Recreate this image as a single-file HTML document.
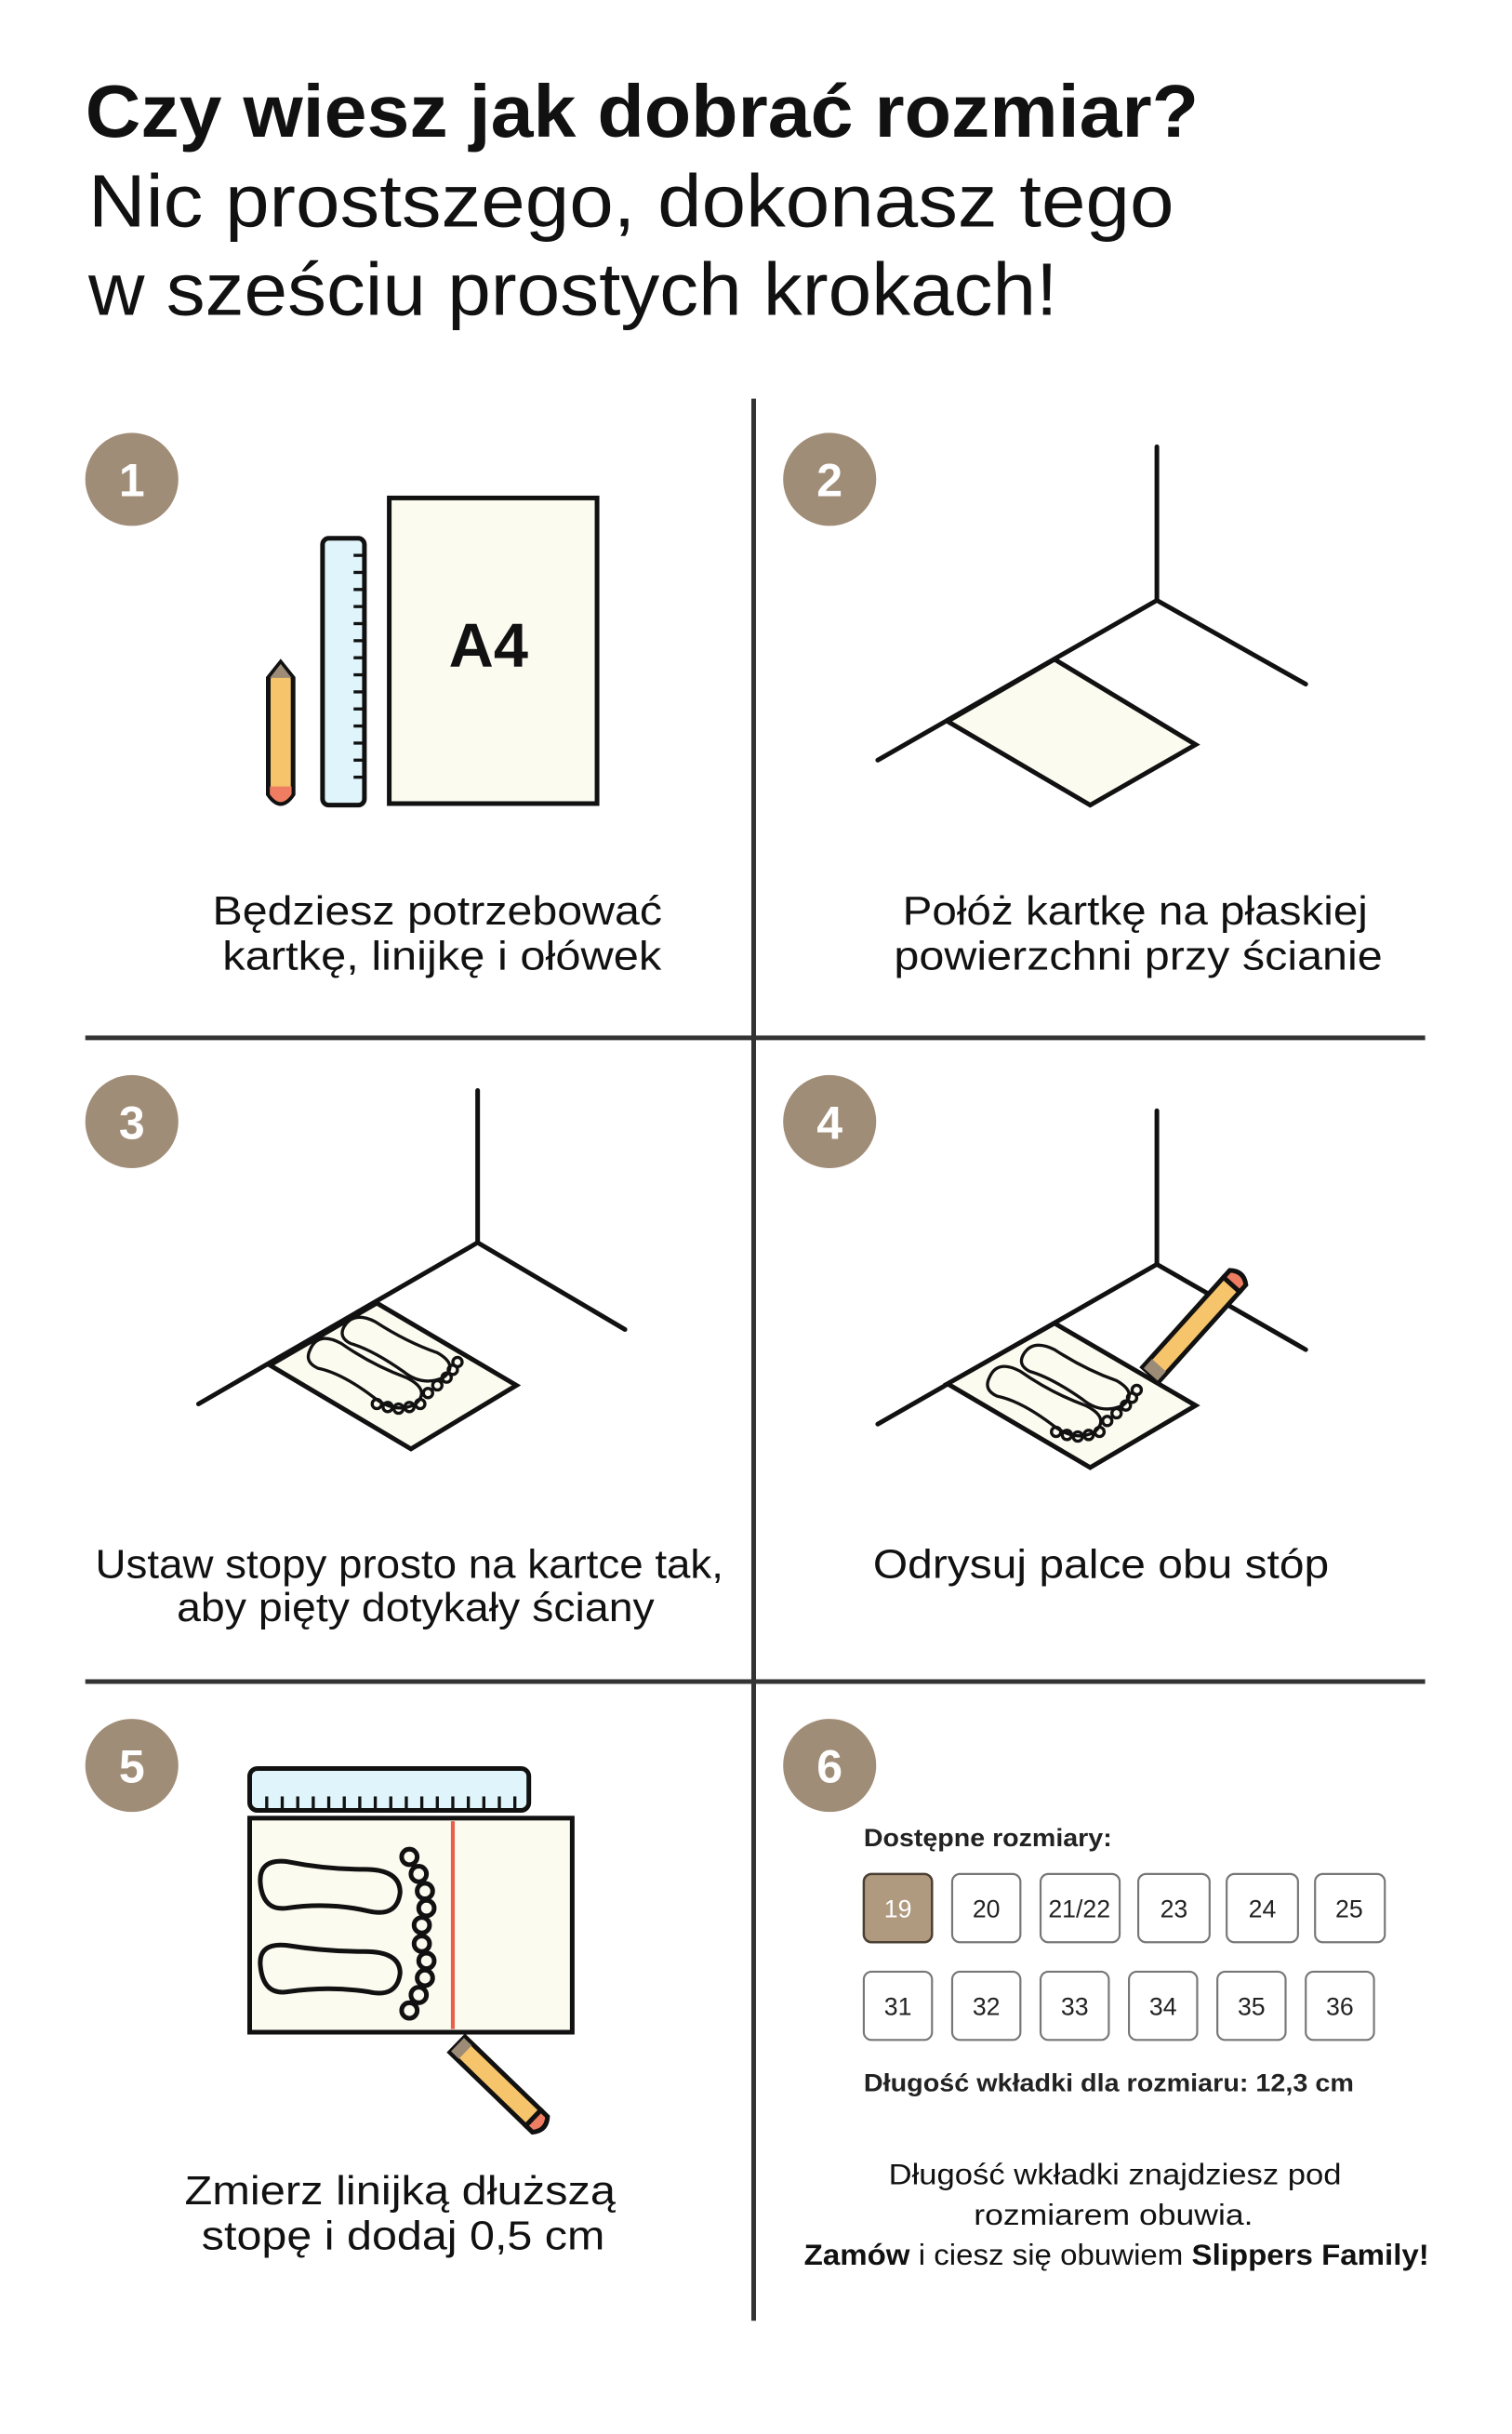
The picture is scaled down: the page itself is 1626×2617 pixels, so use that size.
<!DOCTYPE html>
<html><head><meta charset="utf-8"><style>
html,body{margin:0;padding:0;background:#fff;}
svg{display:block;}
text{font-family:"Liberation Sans",sans-serif;}
</style></head><body>
<svg width="1626" height="2617" viewBox="0 0 975 1569" preserveAspectRatio="none" xmlns="http://www.w3.org/2000/svg">
<rect width="975" height="1569" fill="#fff"/>
<!-- title -->
<text x="55" y="88" font-size="48" font-weight="bold" fill="#111" textLength="718" lengthAdjust="spacingAndGlyphs">Czy wiesz jak dobrać rozmiar?</text>
<text x="57" y="146" font-size="48" fill="#111" textLength="700" lengthAdjust="spacingAndGlyphs">Nic prostszego, dokonasz tego</text>
<text x="57" y="203" font-size="48" fill="#111" textLength="625" lengthAdjust="spacingAndGlyphs">w sześciu prostych krokach!</text>
<!-- grid -->
<line x1="486" y1="257" x2="486" y2="1496" stroke="#333" stroke-width="3"/>
<line x1="55" y1="669" x2="919" y2="669" stroke="#333" stroke-width="3"/>
<line x1="55" y1="1084" x2="919" y2="1084" stroke="#333" stroke-width="3"/>
<!-- number circles -->
<g fill="#a08d78">
<circle cx="85" cy="309" r="30"/><circle cx="535" cy="309" r="30"/>
<circle cx="85" cy="723" r="30"/><circle cx="535" cy="723" r="30"/>
<circle cx="85" cy="1138" r="30"/><circle cx="535" cy="1138" r="30"/>
</g>
<g fill="#fff" font-size="30" font-weight="bold" text-anchor="middle">
<text x="85" y="320">1</text><text x="535" y="320">2</text>
<text x="85" y="734">3</text><text x="535" y="734">4</text>
<text x="85" y="1149">5</text><text x="535" y="1149">6</text>
</g>
<!-- step1 -->
<rect x="251" y="321" width="134" height="197" fill="#fbfbf0" stroke="#111" stroke-width="3"/>
<text x="315" y="430" font-size="40" font-weight="bold" text-anchor="middle" fill="#111">A4</text>
<rect x="208" y="347" width="27" height="172" rx="4" fill="#dff4fb" stroke="#111" stroke-width="3"/>
<g stroke="#111" stroke-width="2">
<line x1="228" y1="358" x2="236" y2="358"/><line x1="228" y1="369" x2="236" y2="369"/><line x1="228" y1="380" x2="236" y2="380"/><line x1="228" y1="391" x2="236" y2="391"/><line x1="228" y1="402" x2="236" y2="402"/><line x1="228" y1="413" x2="236" y2="413"/><line x1="228" y1="424" x2="236" y2="424"/><line x1="228" y1="435" x2="236" y2="435"/><line x1="228" y1="446" x2="236" y2="446"/><line x1="228" y1="457" x2="236" y2="457"/><line x1="228" y1="468" x2="236" y2="468"/><line x1="228" y1="479" x2="236" y2="479"/><line x1="228" y1="490" x2="236" y2="490"/><line x1="228" y1="501" x2="236" y2="501"/>
</g>
<path d="M173,437 L181,427 L189,437 L189,512 Q181,524 173,512 Z" fill="#f6c46a" stroke="#111" stroke-width="3"/>
<path d="M174,437 L181,428 L188,437 Z" fill="#9c8b76"/>
<path d="M174,507 L188,507 L188,512 Q181,522 174,512 Z" fill="#ef7d62"/>
<text x="282" y="596" font-size="26" text-anchor="middle" fill="#111" textLength="290" lengthAdjust="spacingAndGlyphs">Będziesz potrzebować</text>
<text x="285" y="625" font-size="26" text-anchor="middle" fill="#111" textLength="283" lengthAdjust="spacingAndGlyphs">kartkę, linijkę i ołówek</text>
<!-- step2 -->
<g stroke="#111" stroke-width="3" fill="none" stroke-linecap="round">
<line x1="746" y1="288" x2="746" y2="387"/>
<polyline points="566,490 746,387 842,441"/>
</g>
<polygon points="611,465 680,425 771,480 703,519" fill="#fbfbf0" stroke="#111" stroke-width="3"/>
<text x="732" y="596" font-size="26" text-anchor="middle" fill="#111" textLength="300" lengthAdjust="spacingAndGlyphs">Połóż kartkę na płaskiej</text>
<text x="734" y="625" font-size="26" text-anchor="middle" fill="#111" textLength="315" lengthAdjust="spacingAndGlyphs">powierzchni przy ścianie</text>
<!-- step3 -->
<g stroke="#111" stroke-width="3" fill="none" stroke-linecap="round">
<line x1="308" y1="703" x2="308" y2="801"/>
<polyline points="128,905 308,801 403,857"/>
</g>
<polygon points="174,880 243,840 333,893 265,934" fill="#fbfbf0" stroke="#111" stroke-width="3"/>
<g stroke="#111" stroke-width="2" fill="none">
<path d="M200,870 Q205,858 220,866 Q240,880 262,888 Q278,896 268,905 Q255,912 240,900 Q220,885 205,882 Q196,878 200,870 Z"/>
<path d="M222,855 Q228,845 242,852 Q262,865 282,872 Q296,880 286,888 Q272,894 260,884 Q240,870 226,866 Q218,862 222,855 Z"/>
<circle cx="243" cy="905" r="3"/><circle cx="250" cy="907" r="3"/><circle cx="257" cy="908" r="3"/><circle cx="264" cy="907" r="3"/><circle cx="271" cy="905" r="3"/>
<circle cx="276" cy="898" r="3"/><circle cx="282" cy="893" r="3"/><circle cx="288" cy="888" r="3"/><circle cx="292" cy="883" r="3"/><circle cx="295" cy="878" r="3"/>
</g>
<text x="264" y="1017" font-size="26" text-anchor="middle" fill="#111" textLength="405" lengthAdjust="spacingAndGlyphs">Ustaw stopy prosto na kartce tak,</text>
<text x="268" y="1045" font-size="26" text-anchor="middle" fill="#111" textLength="308" lengthAdjust="spacingAndGlyphs">aby pięty dotykały ściany</text>
<!-- step4 -->
<g stroke="#111" stroke-width="3" fill="none" stroke-linecap="round">
<line x1="746" y1="716" x2="746" y2="815"/>
<polyline points="566,918 746,815 842,870"/>
</g>
<polygon points="611,892 680,853 771,906 703,946" fill="#fbfbf0" stroke="#111" stroke-width="3"/>
<g stroke="#111" stroke-width="2" fill="none">
<path d="M638,888 Q643,876 658,884 Q678,898 700,906 Q716,914 706,923 Q693,930 678,918 Q658,903 643,900 Q634,896 638,888 Z"/>
<path d="M660,873 Q666,863 680,870 Q700,883 720,890 Q734,898 724,906 Q710,912 698,902 Q678,888 664,884 Q656,880 660,873 Z"/>
<circle cx="681" cy="923" r="3"/><circle cx="688" cy="925" r="3"/><circle cx="695" cy="926" r="3"/><circle cx="702" cy="925" r="3"/><circle cx="709" cy="923" r="3"/>
<circle cx="714" cy="916" r="3"/><circle cx="720" cy="911" r="3"/><circle cx="726" cy="906" r="3"/><circle cx="730" cy="901" r="3"/><circle cx="733" cy="896" r="3"/>
</g>
<g transform="translate(742,886) rotate(-48)">
<rect x="0" y="-7" width="78" height="14" fill="#f6c46a" stroke="#111" stroke-width="3"/>
<rect x="0" y="-6" width="8" height="12" fill="#9c8b76"/>
<path d="M78,-7 L84,-7 Q90,0 84,7 L78,7 Z" fill="#ef7d62" stroke="#111" stroke-width="3"/>
</g>
<text x="710" y="1017" font-size="26" text-anchor="middle" fill="#111" textLength="294" lengthAdjust="spacingAndGlyphs">Odrysuj palce obu stóp</text>
<!-- step5 -->
<rect x="161" y="1140" width="180" height="27" rx="5" fill="#dff4fb" stroke="#111" stroke-width="3"/>
<g stroke="#111" stroke-width="2">
<line x1="172" y1="1158" x2="172" y2="1167"/><line x1="182" y1="1158" x2="182" y2="1167"/><line x1="192" y1="1158" x2="192" y2="1167"/><line x1="202" y1="1158" x2="202" y2="1167"/><line x1="212" y1="1158" x2="212" y2="1167"/><line x1="222" y1="1158" x2="222" y2="1167"/><line x1="232" y1="1158" x2="232" y2="1167"/><line x1="242" y1="1158" x2="242" y2="1167"/><line x1="252" y1="1158" x2="252" y2="1167"/><line x1="262" y1="1158" x2="262" y2="1167"/><line x1="272" y1="1158" x2="272" y2="1167"/><line x1="282" y1="1158" x2="282" y2="1167"/><line x1="292" y1="1158" x2="292" y2="1167"/><line x1="302" y1="1158" x2="302" y2="1167"/><line x1="312" y1="1158" x2="312" y2="1167"/><line x1="322" y1="1158" x2="322" y2="1167"/><line x1="332" y1="1158" x2="332" y2="1167"/>
</g>
<rect x="161" y="1172" width="208" height="138" fill="#fbfbf0" stroke="#111" stroke-width="3"/>
<line x1="292" y1="1174" x2="292" y2="1308" stroke="#e8604c" stroke-width="2.5"/>
<g stroke="#111" stroke-width="3" fill="none">
<path d="M168,1215 Q166,1198 185,1200 Q210,1205 235,1205 Q258,1205 258,1220 Q256,1236 238,1232 Q212,1226 185,1230 Q170,1232 168,1215 Z"/>
<path d="M168,1268 Q166,1252 185,1254 Q210,1258 235,1258 Q258,1258 258,1272 Q256,1288 238,1284 Q212,1280 185,1284 Q170,1286 168,1268 Z"/>
<circle cx="264" cy="1197" r="5"/><circle cx="270" cy="1208" r="5"/><circle cx="274" cy="1219" r="5"/><circle cx="275" cy="1230" r="5"/><circle cx="272" cy="1241" r="5"/>
<circle cx="272" cy="1253" r="5"/><circle cx="275" cy="1264" r="5"/><circle cx="274" cy="1275" r="5"/><circle cx="270" cy="1286" r="5"/><circle cx="264" cy="1296" r="5"/>
</g>
<g transform="translate(295,1318) rotate(44)">
<rect x="0" y="-7" width="68" height="14" fill="#f6c46a" stroke="#111" stroke-width="3"/>
<rect x="0" y="-6" width="7" height="12" fill="#9c8b76"/>
<path d="M68,-7 L74,-7 Q80,0 74,7 L68,7 Z" fill="#ef7d62" stroke="#111" stroke-width="3"/>
</g>
<text x="258" y="1421" font-size="26" text-anchor="middle" fill="#111" textLength="278" lengthAdjust="spacingAndGlyphs">Zmierz linijką dłuższą</text>
<text x="260" y="1450" font-size="26" text-anchor="middle" fill="#111" textLength="260" lengthAdjust="spacingAndGlyphs">stopę i dodaj 0,5 cm</text>
<!-- step6 -->
<text x="557" y="1190" font-size="16" font-weight="bold" fill="#222" textLength="160" lengthAdjust="spacingAndGlyphs">Dostępne rozmiary:</text>
<rect x="557" y="1208" width="44" height="44" rx="5" fill="#b09a7f" stroke="#4a3f33" stroke-width="1.5"/>
<g fill="#fff" stroke="#777" stroke-width="1.3">
<rect x="614" y="1208" width="44" height="44" rx="5"/><rect x="671" y="1208" width="51" height="44" rx="5"/><rect x="734" y="1208" width="46" height="44" rx="5"/><rect x="791" y="1208" width="46" height="44" rx="5"/><rect x="848" y="1208" width="45" height="44" rx="5"/>
<rect x="557" y="1271" width="44" height="44" rx="5"/><rect x="614" y="1271" width="44" height="44" rx="5"/><rect x="671" y="1271" width="44" height="44" rx="5"/><rect x="728" y="1271" width="44" height="44" rx="5"/><rect x="785" y="1271" width="44" height="44" rx="5"/><rect x="842" y="1271" width="44" height="44" rx="5"/>
</g>
<g font-size="16" text-anchor="middle" fill="#222">
<text x="579" y="1236" fill="#fff">19</text><text x="636" y="1236">20</text><text x="696" y="1236">21/22</text><text x="757" y="1236">23</text><text x="814" y="1236">24</text><text x="870" y="1236">25</text>
<text x="579" y="1299">31</text><text x="636" y="1299">32</text><text x="693" y="1299">33</text><text x="750" y="1299">34</text><text x="807" y="1299">35</text><text x="864" y="1299">36</text>
</g>
<text x="557" y="1348" font-size="16" font-weight="bold" fill="#222" textLength="316" lengthAdjust="spacingAndGlyphs">Długość wkładki dla rozmiaru: 12,3 cm</text>
<text x="719" y="1408" font-size="19" text-anchor="middle" fill="#111" textLength="292" lengthAdjust="spacingAndGlyphs">Długość wkładki znajdziesz pod</text>
<text x="718" y="1434" font-size="19" text-anchor="middle" fill="#111" textLength="180" lengthAdjust="spacingAndGlyphs">rozmiarem obuwia.</text>
<text x="720" y="1460" font-size="19" text-anchor="middle" fill="#111" textLength="403" lengthAdjust="spacingAndGlyphs"><tspan font-weight="bold">Zamów</tspan> i ciesz się obuwiem <tspan font-weight="bold">Slippers Family!</tspan></text>
</svg>
</body></html>
